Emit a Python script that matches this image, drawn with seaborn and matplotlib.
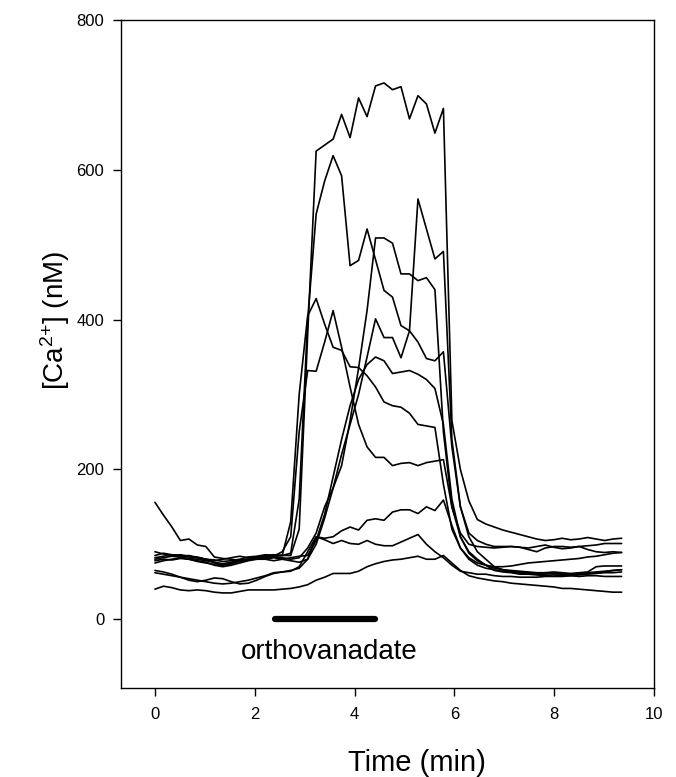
import numpy as np
import pandas as pd
import matplotlib
matplotlib.use("Agg")
import matplotlib.pyplot as plt
import seaborn as sns

# sampling grid (min), one sample every ~10 s
time_min = [round(i * 0.17, 3) for i in range(56)]

trace_A = [80, 82, 84, 83, 81, 80, 78, 76, 74, 76, 79, 80, 80, 82, 84, 85,
           85, 120, 380, 625,
           633, 641, 674, 643, 696, 671, 712, 716, 707, 711, 668, 699, 688, 649, 682,
           265, 200, 158, 133, 127, 123, 119, 116, 113, 110, 107, 105, 106, 108, 106, 107, 109, 107, 105, 107, 108]
trace_B = [85, 88, 86, 84, 85, 82, 80, 78, 80, 82, 84, 82, 83, 85, 86, 85,
           88, 160, 400, 541, 585, 619,
           592, 472, 479, 521, 480, 439, 430, 392, 385, 370, 348, 345, 357,
           230, 150, 115, 105, 100, 97, 97, 97, 96, 93, 90, 95, 97, 97, 96, 97, 98, 99, 101, 101, 101]
trace_C = [90, 87, 85, 86, 84, 83, 80, 75, 72, 74, 78, 80, 82, 84, 83, 82,
           80, 82, 95, 115, 150, 175, 205, 265, 335, 412, 509,
           509, 502, 461, 461, 452, 456, 440, 250,
           150, 110, 90, 80, 72, 68, 66, 65, 64, 63, 62, 62, 63, 62, 61, 62, 63, 70, 71, 71, 71]
trace_D = [75, 78, 80, 82, 80, 78, 76, 72, 70, 72, 75, 78, 80, 80, 82, 80,
           78, 76, 80, 100, 135, 175, 220, 260, 300, 350, 401,
           376, 376, 349, 385, 561, 521, 481, 491,
           240, 150, 110, 90, 80, 70, 66, 64, 62, 61, 60, 60, 61, 60, 59, 60, 61, 62, 63, 65, 66]
trace_F = [82, 84, 86, 85, 83, 82, 80, 79, 77, 78, 80, 83, 84, 86, 85, 85,
           130, 300, 405, 428,
           394, 363, 359, 337, 336, 325, 310, 290, 285, 283, 275, 260, 258, 256, 180,
           120, 95, 82, 75, 72, 70, 70, 71, 73, 75, 76, 77, 78, 79, 80, 81, 83, 84, 86, 88, 89]
trace_G = [78, 80, 79, 81, 80, 77, 75, 73, 72, 74, 77, 79, 81, 82, 84, 90,
           110, 250, 332, 331, 370, 412,
           363, 310, 260, 230, 216, 216, 205, 208, 209, 205, 209, 211, 213,
           150, 115, 100, 97, 96, 95, 96, 97, 96, 95, 97, 99, 96, 94, 95, 97, 93, 90, 89, 90, 89]
trace_H = [156, 139, 123, 105, 107, 99, 97, 83, 81, 80, 78, 80, 82, 80, 78, 80,
           82, 84, 85, 105, 140, 190, 240, 285, 320, 340, 350,
           345, 328, 330, 332, 327, 320, 308, 260,
           160, 110, 88, 78, 72, 65, 63, 62, 60, 60, 59, 58, 59, 58, 58, 59, 60, 61, 62, 62, 63]
trace_I = [62, 60, 58, 56, 54, 52, 50, 48, 47, 48, 50, 52, 55, 58, 62, 63,
           65, 68, 80, 110, 108, 110, 118, 123, 119, 132, 134, 132, 143, 146, 146, 141, 150, 145, 159,
           125, 95, 80, 72, 68, 66, 64, 63, 62, 62, 61, 62, 61, 60, 60, 61, 62, 63, 64, 65, 66]
trace_J = [65, 63, 60, 56, 52, 50, 52, 55, 54, 50, 47, 48, 52, 57, 61, 63,
           64, 70, 90, 110, 106, 101, 105, 101, 100, 105, 100, 98, 98, 103, 108, 113, 100, 90, 82,
           72, 64, 62, 60, 60, 58, 57, 57, 56, 56, 56, 57, 57, 57, 58, 57, 58, 58, 57, 57, 57]
trace_K = [40, 44, 42, 39, 38, 39, 38, 36, 35, 35, 37, 39, 39, 39, 39, 40,
           41, 43, 46, 52, 56, 61, 61, 61, 64, 70, 74, 77, 79, 80, 82, 84, 80, 80, 85,
           75, 65, 58, 55, 53, 51, 50, 48, 47, 46, 45, 44, 43, 41, 41, 40, 39, 38, 37, 36, 36]

traces = {"A": trace_A, "B": trace_B, "C": trace_C, "D": trace_D, "F": trace_F,
          "G": trace_G, "H": trace_H, "I": trace_I, "J": trace_J, "K": trace_K}

# orthovanadate application period (min)
drug_start, drug_end = 2.4, 4.4
drug_label = "orthovanadate"

x_ticks = [0, 2, 4, 6, 8, 10]
y_ticks = [0, 200, 400, 600, 800]

rows = []
for name, vals in traces.items():
    assert len(vals) == len(time_min), name
    for t, v in zip(time_min, vals):
        rows.append({"time": t, "ca": v, "trace": name})
df = pd.DataFrame(rows)

sns.set_style("ticks")
plt.rcParams["font.family"] = ["Liberation Sans", "DejaVu Sans"]
plt.rcParams["mathtext.fontset"] = "custom"
plt.rcParams["mathtext.rm"] = "Liberation Sans"
plt.rcParams["mathtext.default"] = "regular"
plt.rcParams["text.color"] = "black"
plt.rcParams["axes.labelcolor"] = "black"

fig = plt.figure(figsize=(6.76, 7.77), dpi=100)
ax = fig.add_axes([0.179, 0.1145, 0.7885, 0.8597])

sns.lineplot(data=df, x="time", y="ca", units="trace", estimator=None,
             color="black", linewidth=1.2, ax=ax, legend=False)

ax.plot([drug_start, drug_end], [0, 0], color="black", linewidth=4.5,
        solid_capstyle="round")
ax.text(3.5, -44, drug_label, ha="center", va="center", fontsize=20, color="black")

ax.set_xlim(-0.68, 10)
ax.set_ylim(-92, 800)
ax.set_xticks(x_ticks)
ax.set_yticks(y_ticks)
ax.tick_params(axis="both", direction="out", length=6, width=1, labelsize=12,
               top=False, right=False, colors="black")
ax.tick_params(axis="x", pad=8)
ax.tick_params(axis="y", pad=6)
for s in ax.spines.values():
    s.set_visible(True)
    s.set_color("black")
    s.set_linewidth(1.0)

ax.set_xlabel("Time (min)", fontsize=21)
ax.set_ylabel("[Ca$^{2{+}}$] (nM)", fontsize=20)
ax.xaxis.set_label_coords(0.555, -0.092)
ax.yaxis.set_label_coords(-0.092, 0.551)

fig.savefig("out.png", dpi=100, facecolor="white")
